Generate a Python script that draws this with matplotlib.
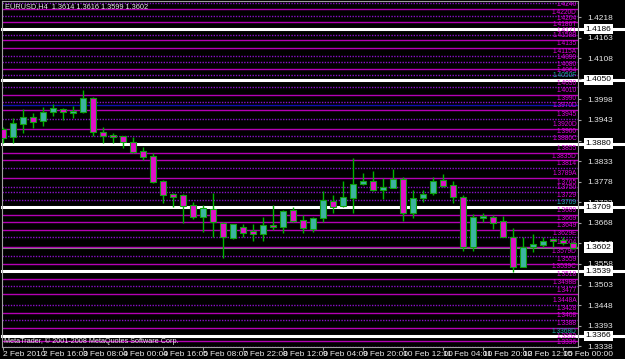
import matplotlib
matplotlib.use("Agg")
import matplotlib.pyplot as plt
import matplotlib.transforms as mtransforms
import numpy as np

plt.rcParams['font.family'] = ['Liberation Sans Narrow', 'Liberation Sans', 'DejaVu Sans']

# EURUSD H4 candles, 2 Feb 2010 .. 15 Feb 2010
opens  = [1.3918, 1.3897, 1.3932, 1.3951, 1.3940, 1.3964, 1.3972, 1.3961, 1.3964, 1.4001,
          1.3910, 1.3902, 1.3900, 1.3884, 1.3860, 1.3846, 1.3779, 1.3745, 1.3742, 1.3715,
          1.3683, 1.3705, 1.3667, 1.3627, 1.3656, 1.3646, 1.3638, 1.3662, 1.3656, 1.3702,
          1.3675, 1.3651, 1.3680, 1.3726, 1.3713, 1.3734, 1.3771, 1.3779, 1.3755, 1.3761,
          1.3785, 1.3694, 1.3734, 1.3747, 1.3782, 1.3769, 1.3737, 1.3603, 1.3680, 1.3683,
          1.3672, 1.3630, 1.3549, 1.3603, 1.3608, 1.3624, 1.3622, 1.3614]
highs  = [1.3924, 1.3948, 1.3972, 1.3961, 1.3977, 1.3985, 1.3975, 1.3980, 1.4023, 1.4004,
          1.3924, 1.3908, 1.3900, 1.3897, 1.3870, 1.3854, 1.3782, 1.3747, 1.3745, 1.3723,
          1.3715, 1.3747, 1.3670, 1.3664, 1.3664, 1.3664, 1.3683, 1.3715, 1.3702, 1.3710,
          1.3689, 1.3683, 1.3753, 1.3742, 1.3779, 1.3841, 1.3801, 1.3806, 1.3787, 1.3812,
          1.3790, 1.3755, 1.3755, 1.3790, 1.3798, 1.3779, 1.3742, 1.3691, 1.3694, 1.3689,
          1.3686, 1.3654, 1.3630, 1.3638, 1.3630, 1.3627, 1.3630, 1.3616]
lows   = [1.3881, 1.3881, 1.3908, 1.3921, 1.3927, 1.3953, 1.3943, 1.3948, 1.3961, 1.3900,
          1.3881, 1.3881, 1.3868, 1.3854, 1.3836, 1.3774, 1.3721, 1.3710, 1.3667, 1.3678,
          1.3643, 1.3630, 1.3573, 1.3624, 1.3630, 1.3619, 1.3619, 1.3648, 1.3640, 1.3670,
          1.3640, 1.3643, 1.3670, 1.3694, 1.3710, 1.3694, 1.3769, 1.3753, 1.3731, 1.3761,
          1.3672, 1.3680, 1.3723, 1.3742, 1.3763, 1.3721, 1.3592, 1.3592, 1.3670, 1.3651,
          1.3630, 1.3536, 1.3549, 1.3590, 1.3603, 1.3603, 1.3608, 1.3599]
closes = [1.3894, 1.3935, 1.3951, 1.3937, 1.3964, 1.3975, 1.3964, 1.3967, 1.4001, 1.3910,
          1.3900, 1.3897, 1.3884, 1.3857, 1.3844, 1.3777, 1.3742, 1.3737, 1.3713, 1.3683,
          1.3707, 1.3670, 1.3630, 1.3664, 1.3640, 1.3638, 1.3662, 1.3656, 1.3699, 1.3672,
          1.3654, 1.3680, 1.3729, 1.3710, 1.3737, 1.3771, 1.3779, 1.3755, 1.3763, 1.3785,
          1.3694, 1.3734, 1.3745, 1.3779, 1.3766, 1.3737, 1.3603, 1.3683, 1.3686, 1.3667,
          1.3630, 1.3549, 1.3603, 1.3611, 1.3619, 1.3619, 1.3614, 1.3602]

date_labels = ["2 Feb 2010", "2 Feb 16:00", "3 Feb 08:00", "4 Feb 00:00", "4 Feb 16:00",
               "5 Feb 08:00", "7 Feb 22:00", "8 Feb 12:00", "9 Feb 04:00", "9 Feb 20:00",
               "10 Feb 12:00", "11 Feb 04:00", "11 Feb 20:00", "12 Feb 12:00", "15 Feb 00:00"]

axis_prices = [1.4218, 1.4163, 1.4108, 1.4053, 1.3998, 1.3943, 1.3888, 1.3833, 1.3778,
               1.3723, 1.3668, 1.3613, 1.3558, 1.3503, 1.3448, 1.3393, 1.3338]

# pivot lines (solid) and in-between lines (dotted)
solid_levels = [1.4240, 1.4204, 1.4158, 1.4135, 1.4080, 1.4010, 1.3970, 1.3920, 1.3855,
                1.3835, 1.3789, 1.3689, 1.3669, 1.3649, 1.3604, 1.3559, 1.3518, 1.3477,
                1.3428, 1.3388, 1.3352]
solid_labels = ["1.4240", "1.4204", "1.4158B", "1.4135", "1.4080", "1.4010", "1.3970D",
                "1.3920D", "1.3855", "1.3835D", "1.3789A", "1.3689", "1.3669", "1.3649",
                "1.3604", "1.3559", "1.3518", "1.3477", "1.3428", "1.3388", "1.3352"]
dotted_levels = [1.4256, 1.4220, 1.4171, 1.4115, 1.4099, 1.4064, 1.4030, 1.3990, 1.3945,
                 1.3900, 1.3814, 1.3765, 1.3750, 1.3729, 1.3629, 1.3579, 1.3498, 1.3448,
                 1.3408, 1.3336]
dotted_labels = ["", "1.4220D", "1.4171", "1.4115A", "1.4099", "1.4064", "1.4030", "1.3990",
                 "1.3945", "1.3900", "1.3814", "1.3765", "1.3750", "1.3729", "1.3629E",
                 "1.3579D", "1.3498B", "1.3448A", "1.3408", "1.3336"]
key_levels = [1.4186, 1.4050, 1.3880, 1.3709, 1.3539, 1.3366]
key_labels = ["1.4186T", "1.4050F", "1.3880C", "1.3709", "1.3539C", "1.3368D"]
blue_level = 1.3983
last_price = 1.3602

W, H = 625, 359
fig = plt.figure(figsize=(W / 100, H / 100), dpi=100, facecolor="black")
ax = fig.add_axes([2 / W, 12 / H, 576 / W, 346 / H], facecolor="black")
ax.set_xlim(-0.1, 57.5)
ax.set_ylim(1.3336, 1.4261)
ytrans = mtransforms.blended_transform_factory(ax.transAxes, ax.transData)
lab_fs = 4.8

# horizontal levels
for p, lab in zip(solid_levels, solid_labels):
    ax.axhline(p, color="#B400B4", lw=1.0, zorder=1)
    ax.text(0.998, p + 0.0002, lab, transform=ytrans, ha="right", va="bottom",
            fontsize=lab_fs, color="#E000E0", zorder=2)
for p, lab in zip(dotted_levels, dotted_labels):
    ax.axhline(p, color="#8A10C8", lw=1.0, ls=(0, (1, 1)), zorder=1)
    ax.text(0.998, p + 0.0002, lab, transform=ytrans, ha="right", va="bottom",
            fontsize=lab_fs, color="#E000E0", zorder=2)
ax.axhline(blue_level, color="#1010B0", lw=1.0, zorder=1)
ax.axhline(last_price, color="#808080", lw=0.8, zorder=1)
for p, lab in zip(key_levels, key_labels):
    ax.axhline(p, xmax=1.085, color="white", lw=2.2, zorder=1.5, clip_on=False)
    col = "#20A8A8" if lab in ("1.4050F", "1.3709", "1.3368D") else "#E000E0"
    ax.text(0.998, p + 0.0003, lab, transform=ytrans, ha="right", va="bottom",
            fontsize=lab_fs, color=col, zorder=2)

# candles
o = np.array(opens); h = np.array(highs); l = np.array(lows); c = np.array(closes)
x = np.arange(len(o))
bull = c >= o
ax.vlines(x, l, h, color="#00B400", lw=1.0, zorder=3)
body = np.maximum(np.abs(c - o), 0.00015)
ax.bar(x, body, bottom=np.minimum(o, c), width=0.68,
       color=np.where(bull, "#3CB4A0", "#E010C8"), edgecolor="#10A010", lw=0.8, zorder=4)

# axes styling
for s in ax.spines.values():
    s.set_color("#A0A0A0")
    s.set_linewidth(0.8)
ax.yaxis.tick_right()
ax.set_yticks(axis_prices)
# labels sitting under a key-level box are not visible in the terminal
hidden = [any(abs(p - k) < 0.0010 for k in key_levels) for p in axis_prices]
ax.set_yticklabels(["" if hd else "%.4f" % p for p, hd in zip(axis_prices, hidden)])
ax.set_xticks(x[::4])
ax.set_xticklabels(date_labels, ha="left")
ax.tick_params(axis="both", colors="#A0A0A0", labelcolor="#E8E8E8", labelsize=6,
               length=2.5, width=0.8, pad=0.5)
ax.tick_params(axis="y", pad=4)

# axis boxes
for p in key_levels + [last_price]:
    ax.text(1.013, p, "%.4f" % p, transform=ytrans, ha="left", va="center", fontsize=6,
            color="black", zorder=10, clip_on=False,
            bbox=dict(boxstyle="square,pad=0.2", fc="white", ec="none"))

ax.text(0.006, 0.994, "EURUSD,H4  %.4f %.4f %.4f %.4f" % (opens[-1], highs[-1], lows[-1], closes[-1]),
        transform=ax.transAxes, ha="left", va="top", fontsize=5.3, color="#E8E8E8", zorder=10)
ax.text(0.004, 0.006, "MetaTrader, \u00a9 2001-2008 MetaQuotes Software Corp.",
        transform=ax.transAxes, ha="left", va="bottom", fontsize=5.2, color="#E8E8E8", zorder=10)

fig.savefig("out.png", dpi=100, facecolor="black")
